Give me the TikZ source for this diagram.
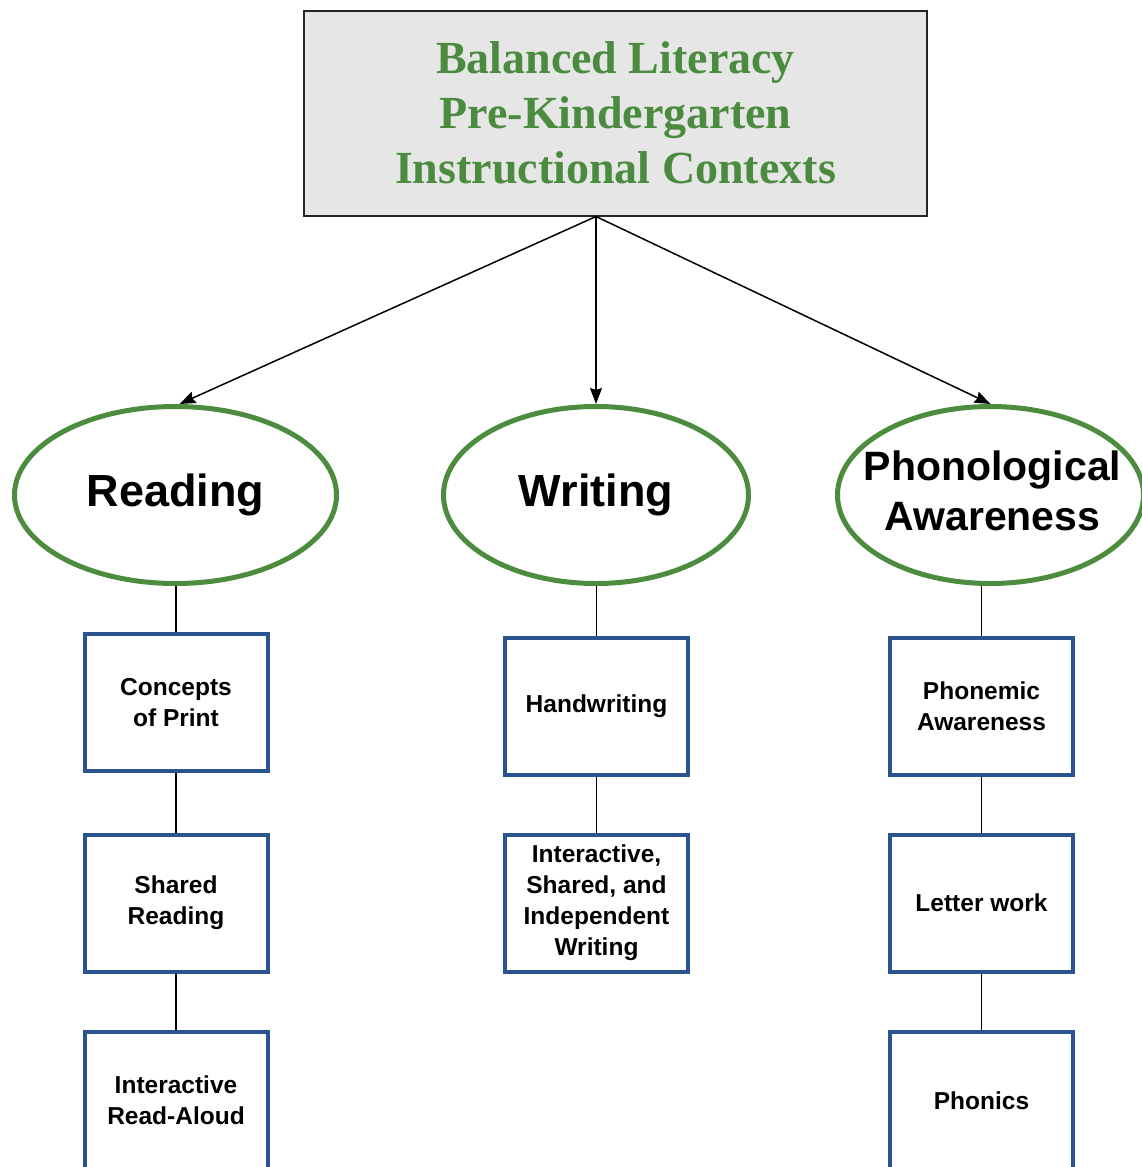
\documentclass[tikz,border=0pt]{standalone}
\usepackage{fontspec}
\setmainfont{Liberation Serif}
\setsansfont{Liberation Sans}
\usepackage{tikz}
\usetikzlibrary{arrows.meta,shapes.geometric,positioning}
\definecolor{titlegreen}{HTML}{4A8B3F}
\definecolor{ringgreen}{HTML}{4B8C3E}
\definecolor{boxblue}{HTML}{2A5490}
\definecolor{titlegray}{HTML}{E6E6E6}
\tikzstyle{titlebox} = [draw=black!85, line width=2pt, fill=titlegray, minimum width=623pt, minimum height=205pt, align=center, text=titlegreen, font=\fontsize{46}{55}\selectfont\bfseries]
\tikzstyle{topic} = [ellipse, draw=ringgreen, line width=5pt, fill=white, inner sep=0pt, align=center, font=\sffamily\bfseries\fontsize{45}{50}\selectfont]
\tikzstyle{part} = [draw=boxblue, line width=4pt, fill=white, minimum width=183pt, minimum height=137pt, align=center, font=\sffamily\bfseries\fontsize{24.5}{31}\selectfont]
\tikzstyle{arrow} = [line width=1.5pt, -{Stealth[length=16pt,width=12pt,inset=2pt]}]
\tikzstyle{link} = [line width=1.5pt]

\begin{document}
\begin{tikzpicture}[x=1pt,y=-1pt]
                \useasboundingbox (0,0) rectangle (1141,1167);
                \node[titlebox] (title) at (615.5,113) {Balanced Literacy\\Pre-Kindergarten\\Instructional Contexts};
                % three topics
                \node[topic, minimum width=322pt, minimum height=177pt] (read) at (175.5,495) {Reading};
                \node[topic, minimum width=305pt, minimum height=177pt] (write) at (596,495) {Writing};
                \node[topic, minimum width=306pt, minimum height=177pt,
                      label={[align=center, font=\sffamily\bfseries\fontsize{41}{50}\selectfont, yshift=4pt, xshift=2pt]center:Phonological\\Awareness}] (phon) at (990.5,495) {};
                \coordinate (fork) at (title.south -| write.north);
                \draw[arrow] (fork) -- ([xshift=4pt]read.north);
                \draw[arrow] (fork) -- (write.north);
                \draw[arrow] (fork) -- (phon.north);
                % boxes under each topic
                \node[part] (r1) at (176,702.5) {Concepts\\of Print};
                \node[part] (r2) at (176,903) {Shared\\Reading};
                \node[part] (r3) at (176,1100.5) {Interactive\\Read-Aloud};
                \node[part] (w1) at (596.5,706) {Handwriting};
                \node[part] (w2) at (596.5,903) {Interactive,\\Shared, and\\Independent\\Writing};
                \node[part] (p1) at (981.5,706) {Phonemic\\Awareness};
                \node[part] (p2) at (981.5,903) {Letter work};
                \node[part] (p3) at (981.5,1100.5) {Phonics};
                \draw[link] (r1.north |- read.south) -- (r1.north);
                \draw[link] (w1.north |- write.south) -- (w1.north);
                \draw[link] (p1.north |- phon.south) -- (p1.north);
                \foreach \a/\b in {r1/r2,r2/r3,w1/w2,p1/p2,p2/p3}{
                    \draw[link] (\a.south) -- (\b.north);
                }
            \end{tikzpicture}
\end{document}
